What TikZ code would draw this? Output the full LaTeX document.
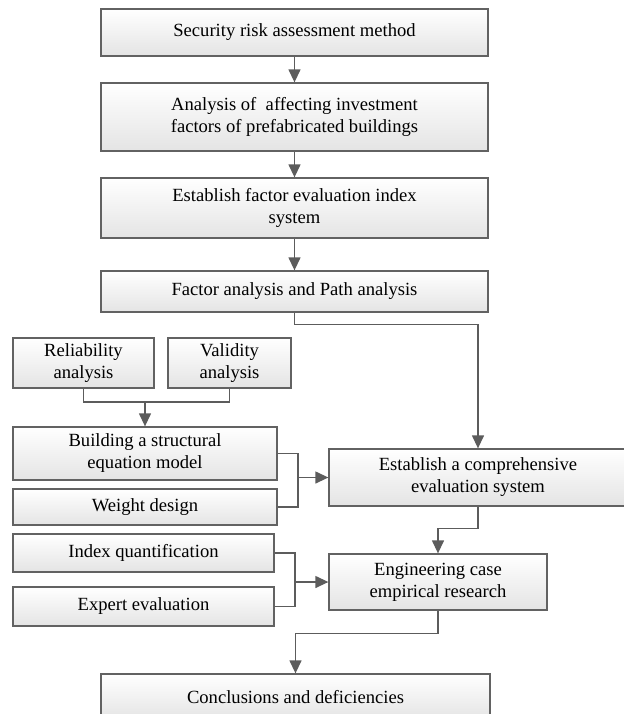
\documentclass[tikz,border=0pt]{standalone}
\usepackage{fontspec}
\setmainfont{Liberation Serif}
\usetikzlibrary{arrows.meta}
\definecolor{boxline}{RGB}{98,98,98}
\definecolor{boxfill}{RGB}{228,228,228}
\definecolor{arrline}{RGB}{92,92,92}
\begin{document}
\begin{tikzpicture}[x=0.5pt,y=-0.5pt,
  box/.style={draw=boxline,line width=.65pt,top color=white,bottom color=boxfill,
    align=center,inner sep=0pt,font=\fontsize{9.3}{11}\selectfont},
  link/.style={draw=arrline,line width=.65pt},
  arr/.style={link,->,>={Triangle[length=6.5pt,width=6pt]}}]
  \useasboundingbox (0,0) rectangle (624,714);
  \node[box,minimum width=193.5pt,minimum height=23.5pt] (sec) at (294.5,32.5) {Security risk assessment method};
  \node[box,minimum width=193.5pt,minimum height=34pt] (ana) at (294.5,117) {Analysis of~ affecting investment\\factors of prefabricated buildings};
  \node[box,minimum width=193.5pt,minimum height=30pt] (est) at (294.5,208) {Establish factor evaluation index\\system};
  \node[box,minimum width=193.5pt,minimum height=20.5pt] (fac) at (294.5,291.5) {Factor analysis and Path analysis};
  \node[box,minimum width=70.5pt,minimum height=25pt] (rel) at (83.5,363) {Reliability\\analysis};
  \node[box,minimum width=61.5pt,minimum height=25pt] (val) at (229.5,363) {Validity\\analysis};
  \node[box,minimum width=132pt,minimum height=26.5pt] (sem) at (145,453.5) {Building a structural\\equation model};
  \node[box,minimum width=132pt,minimum height=18pt] (wgt) at (145,507) {Weight design};
  \node[box,minimum width=149pt,minimum height=28.5pt] (com) at (478,477.5) {Establish a comprehensive\\evaluation system};
  \node[box,minimum width=130.5pt,minimum height=19pt] (idx) at (143.5,553) {Index quantification};
  \node[box,minimum width=130.5pt,minimum height=19.5pt] (exp) at (143.5,606.5) {Expert evaluation};
  \node[box,minimum width=109pt,minimum height=28pt] (eng) at (438,582) {Engineering case\\empirical research};
  \node[box,minimum width=194.5pt,minimum height=23pt] (con) at (295.5,697) {Conclusions and deficiencies};
  \coordinate (rv) at (145,402);
  \coordinate (sw) at (298,0);
  \coordinate (ie) at (295,0);
  \draw[arr] (sec) -- (ana);
  \draw[arr] (ana) -- (est);
  \draw[arr] (est) -- (fac);
  \draw[arr] (fac.south) -- ++(0,12) -| (com.north);
  \draw[link] (rel.south) |- (rv) -| (val.south);
  \draw[arr] (rv) -- (sem.north);
  \draw[link] (sem.east) -| (sw |- wgt.east) -- (wgt.east);
  \draw[arr] (sw |- com.west) -- (com.west);
  \draw[arr] (com.south) -- ++(0,22) -| (eng.north);
  \draw[link] (idx.east) -| (ie |- exp.east) -- (exp.east);
  \draw[arr] (ie |- eng.west) -- (eng.west);
  \draw[arr] (eng.south) -- ++(0,23) -| (con.north);
\end{tikzpicture}
\end{document}
